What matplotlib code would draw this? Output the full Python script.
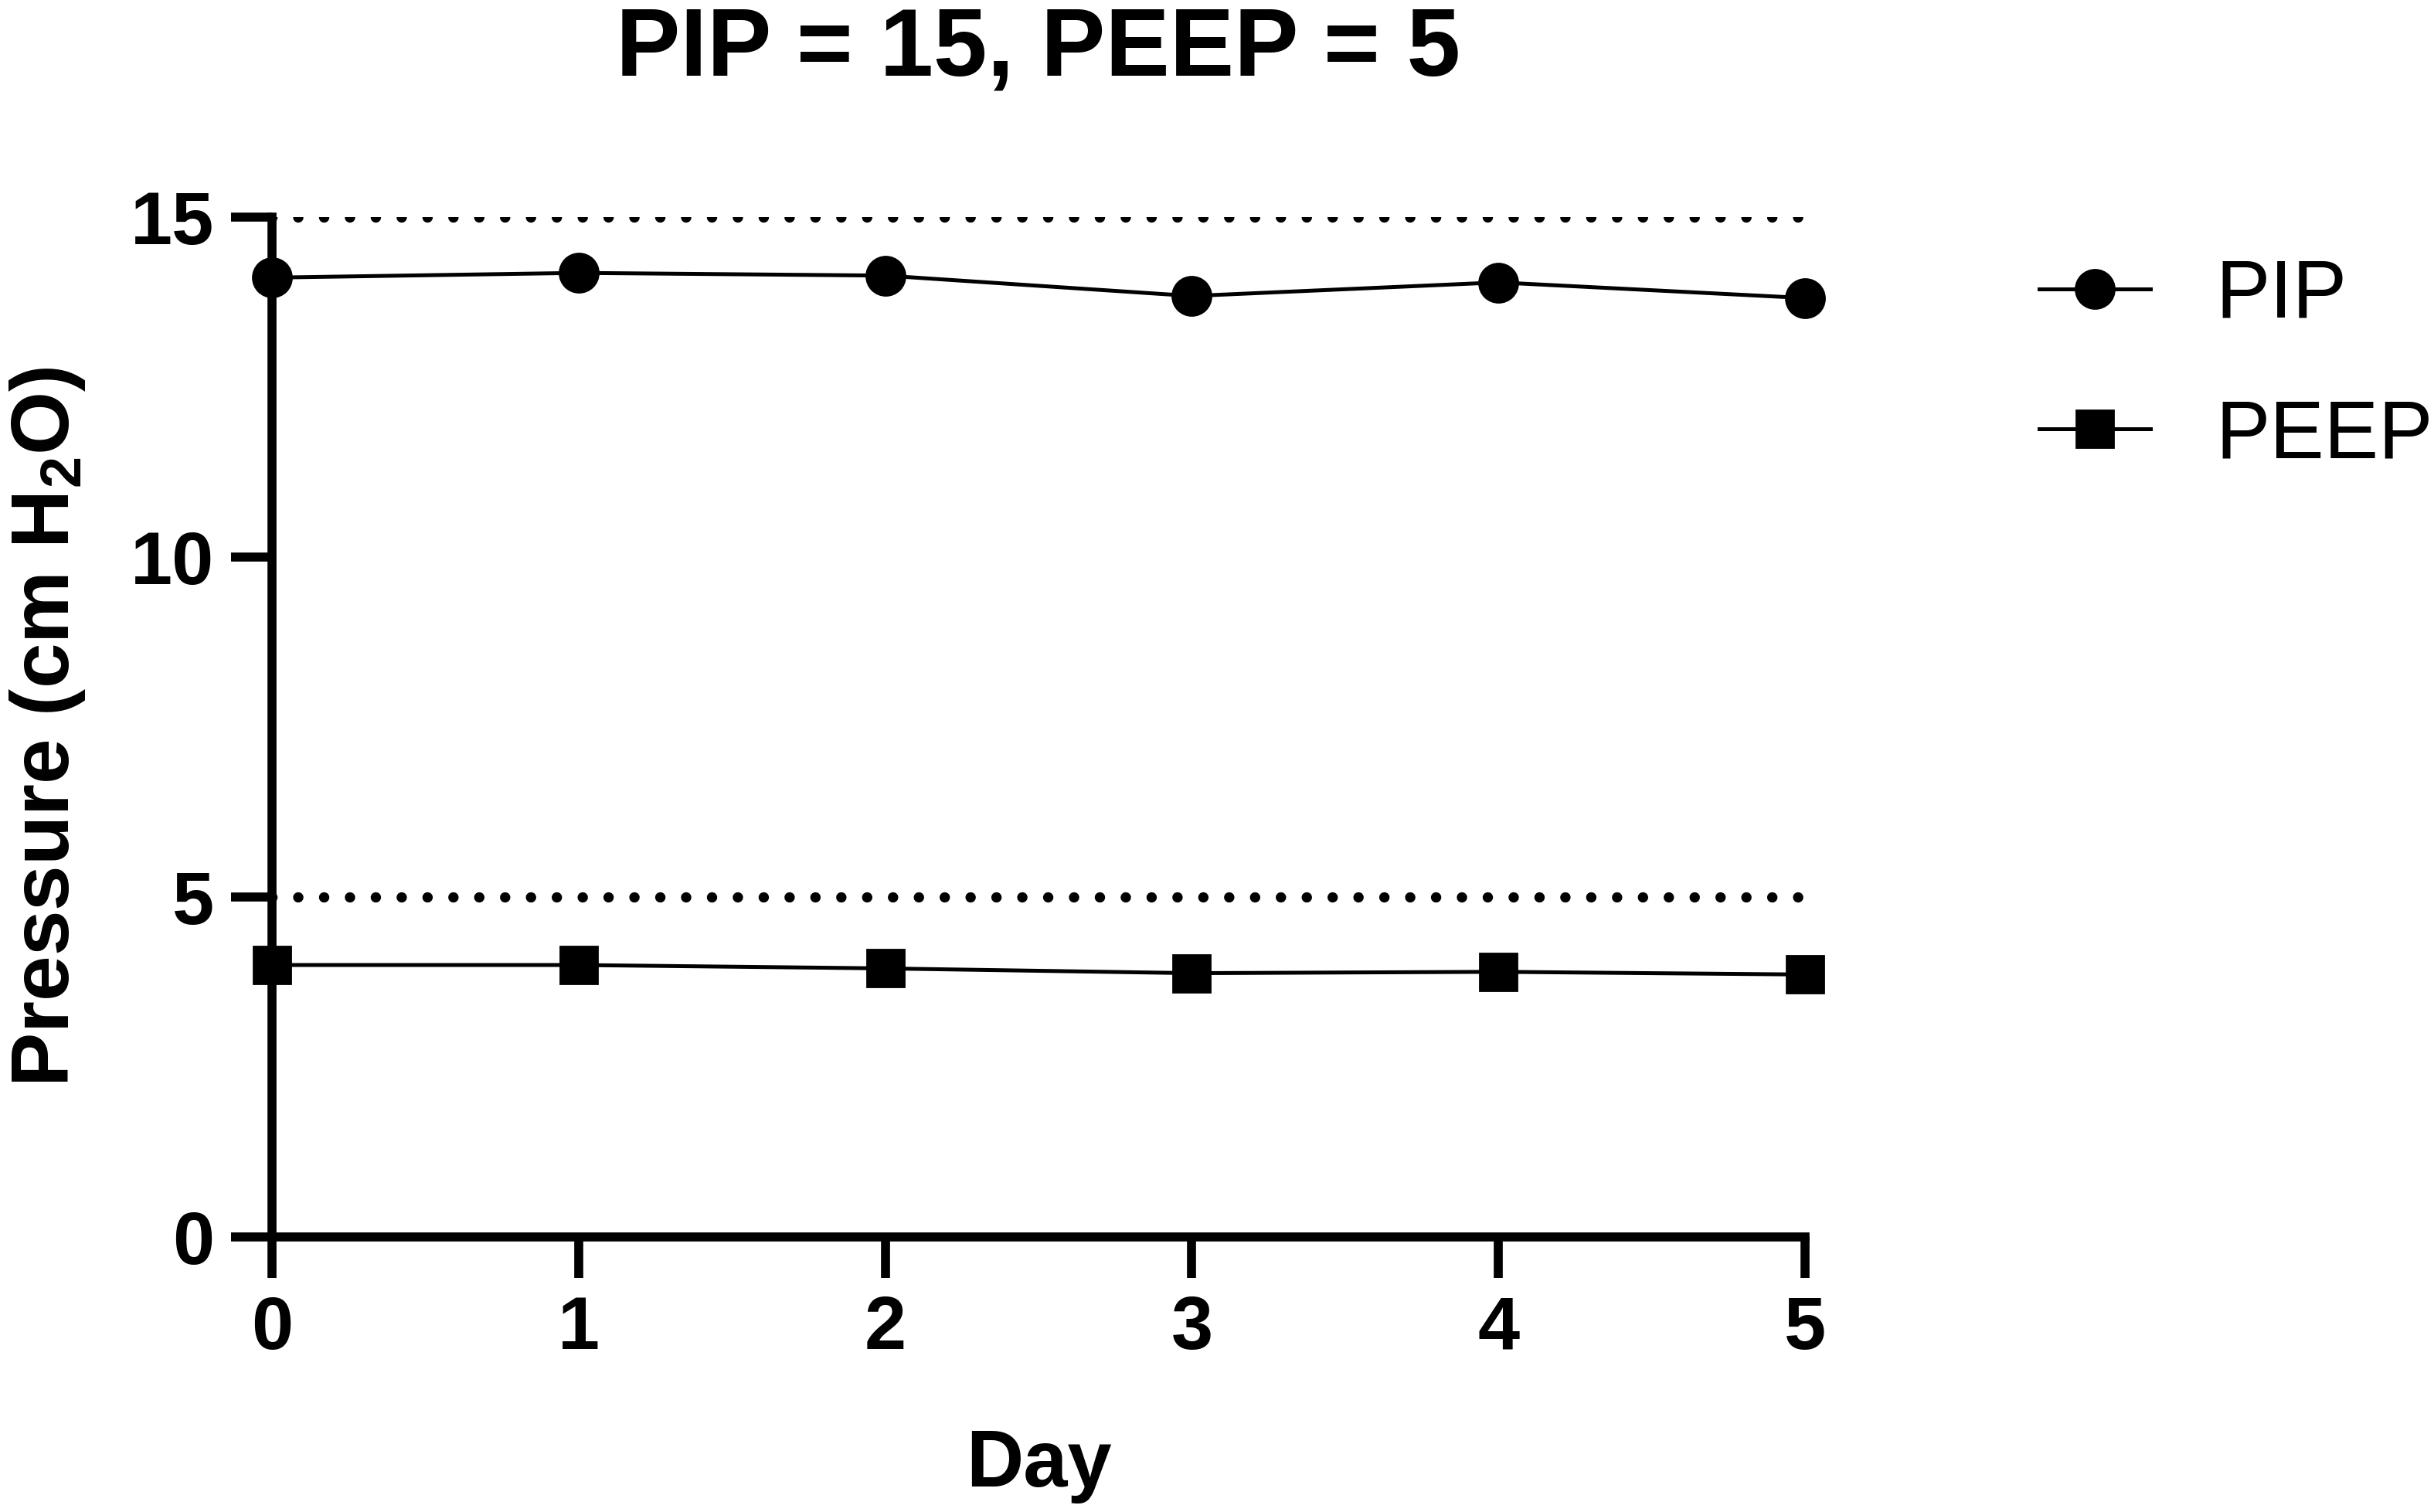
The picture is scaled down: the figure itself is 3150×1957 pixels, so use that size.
import matplotlib.pyplot as plt

plt.rcParams['font.family'] = ['Liberation Sans', 'DejaVu Sans']
plt.rcParams['mathtext.fontset'] = 'custom'
plt.rcParams['mathtext.rm'] = 'Liberation Sans'
plt.rcParams['mathtext.bf'] = 'Liberation Sans:bold'
plt.rcParams['mathtext.default'] = 'bf'

days = [0, 1, 2, 3, 4, 5]
pip = [14.11, 14.18, 14.14, 13.84, 14.04, 13.81]
peep = [4.00, 4.00, 3.95, 3.88, 3.90, 3.86]
targets = [15, 5]

fig = plt.figure(figsize=(15.75, 9.785), dpi=200)
ax = fig.add_axes([0.1117, 0.1819, 0.6299, 0.6745])

for t in targets:
    ax.plot([0, 5], [t, t], color='black', lw=4.8,
            linestyle=(0, (0.01, 2.5)), dash_capstyle='round', zorder=2)

ax.plot(days, pip, color='black', lw=1.8, marker='o', markersize=18,
        label='PIP', clip_on=False, zorder=5)
ax.plot(days, peep, color='black', lw=1.8, marker='s', markersize=17,
        label='PEEP', clip_on=False, zorder=5)

ax.set_xlim(0, 5)
ax.set_ylim(0, 15)
ax.set_xticks(days)
ax.set_yticks([0, 5, 10, 15])

for s in ['top', 'right']:
    ax.spines[s].set_visible(False)
for s in ['left', 'bottom']:
    ax.spines[s].set_linewidth(4.2)

ax.tick_params(axis='both', width=4.2, length=19, labelsize=35, pad=8)
for lab in ax.get_xticklabels() + ax.get_yticklabels():
    lab.set_fontweight('bold')

ax.set_title('PIP = 15, PEEP = 5', fontsize=45, fontweight='bold', pad=66)
ax.set_xlabel('Day', fontsize=37, fontweight='bold', labelpad=30)
ax.set_ylabel('Pressure (cm H$_2$O)', fontsize=38, fontweight='bold', labelpad=20)

ax.legend(loc='upper left', bbox_to_anchor=(1.105, 1.032), frameon=False,
          fontsize=38, handlelength=1.36, handletextpad=0.8, labelspacing=0.78)

fig.savefig('out.png', dpi=200)
